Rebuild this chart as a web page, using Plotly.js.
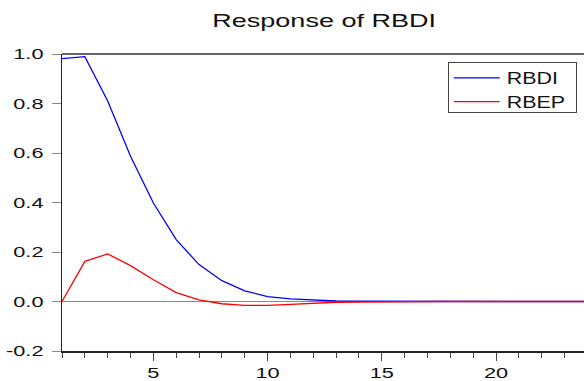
<!DOCTYPE html>
<html><head><meta charset="utf-8">
<script src="https://cdn.plot.ly/plotly-3.0.1.min.js"></script>
<style>html,body{margin:0;padding:0;background:#fff}#chart{width:584px;height:381px}</style>
</head><body><div id="chart"></div>
<script>
const periods = [1,2,3,4,5,6,7,8,9,10,11,12,13,14,15,16,17,18,19,20,21,22,23,24];
const rbdi = [0.981,0.989,0.81,0.587,0.398,0.25,0.149,0.084,0.043,0.02,0.011,0.005,0.002,0.001,0.0005,0.0002,0.0001,0,0,0,0,0,0,0];
const rbep = [0,0.162,0.192,0.145,0.088,0.036,0.007,-0.009,-0.016,-0.016,-0.012,-0.007,-0.003,-0.002,-0.001,-0.0005,-0.0002,0,0,0,0,0,0,0];
const seriesNames = ['RBDI','RBEP'];
const titleText = 'Response of RBDI';
const yTickVals = [-0.2,0,0.2,0.4,0.6,0.8,1.0];
const yTickText = ['-0.2','0.0','0.2','0.4','0.6','0.8','1.0'];
const xTickVals = [5,10,15,20];

const traces = [
  {x: periods, y: rbdi, name: seriesNames[0], type:'scatter', mode:'lines', line:{color:'#0000ff', width:1.3}},
  {x: periods, y: rbep, name: seriesNames[1], type:'scatter', mode:'lines', line:{color:'#ff0000', width:1.3}}
];
const layout = {
  width:584, height:381,
  margin:{l:62, r:0, t:54, b:30},
  paper_bgcolor:'#fff', plot_bgcolor:'#fff',
  font:{family:'Liberation Sans, Arial, sans-serif', size:15, color:'#111'},
  title:{text:titleText, x:0.555, xanchor:'center', y:0.945, yanchor:'middle', font:{size:18, color:'#111'}},
  xaxis:{range:[1,23.85], tickmode:'array', tickvals:xTickVals, ticks:'outside', ticklen:8, tickcolor:'#444',
    minor:{dtick:1, tick0:0, ticks:'outside', ticklen:5, tickcolor:'#444'},
    showgrid:false, zeroline:false, showline:true, linecolor:'#222', linewidth:1.5, tickfont:{size:15}},
  yaxis:{range:[-0.2,1.0], tickmode:'array', tickvals:yTickVals, ticktext:yTickText,
    ticks:'outside', ticklen:9, tickcolor:'#888', ticklabelstandoff:5, showgrid:false, zeroline:true, zerolinecolor:'#888', zerolinewidth:1.5,
    showline:true, linecolor:'#222', linewidth:1.5, tickfont:{size:15}},
  shapes:[{type:'line', xref:'paper', yref:'paper', x0:0, x1:1, y0:1, y1:1, line:{color:'#333', width:1.5}}],
  showlegend:true,
  legend:{x:0.739, y:0.973, xanchor:'left', yanchor:'top', bordercolor:'#444', borderwidth:1, bgcolor:'#fff',
    font:{size:16, color:'#111'}, tracegroupgap:0, itemwidth:48}
};

function stretchText(root, sel, k) {
  root.querySelectorAll(sel).forEach(t => {
    const x = parseFloat(t.getAttribute('x')) || 0;
    const y = parseFloat(t.getAttribute('y')) || 0;
    const tr = t.getAttribute('transform') || '';
    t.setAttribute('transform', tr + ' translate(' + x + ',' + y + ') scale(' + k + ',1) translate(' + (-x) + ',' + (-y) + ')');
  });
}

Plotly.newPlot('chart', traces, layout, {displayModeBar:false, staticPlot:true}).then(gd => {
  stretchText(gd, '.gtitle', 1.5);
  stretchText(gd, '.xtick text', 1.45);
  stretchText(gd, '.ytick text', 1.45);
  stretchText(gd, '.legendtext', 1.34);
  gd.querySelectorAll('.legendlines path').forEach(p => p.setAttribute('d', 'M5,0h46'));
  gd.querySelectorAll('.legend .traces').forEach(g => {
    const tr = g.getAttribute('transform') || '';
    g.setAttribute('transform', tr + ' translate(0,-2)');
  });
  gd.querySelectorAll('.legend rect.bg').forEach(r => { r.setAttribute('width', 128); r.setAttribute('height', 50); });
  gd.querySelectorAll('clipPath[id^="legend"] rect').forEach(r => { r.setAttribute('width', 130); r.setAttribute('height', 52); });
  gd.querySelectorAll('.legend .scrollbox').forEach(s => s.removeAttribute('clip-path'));
});
</script></body></html>
